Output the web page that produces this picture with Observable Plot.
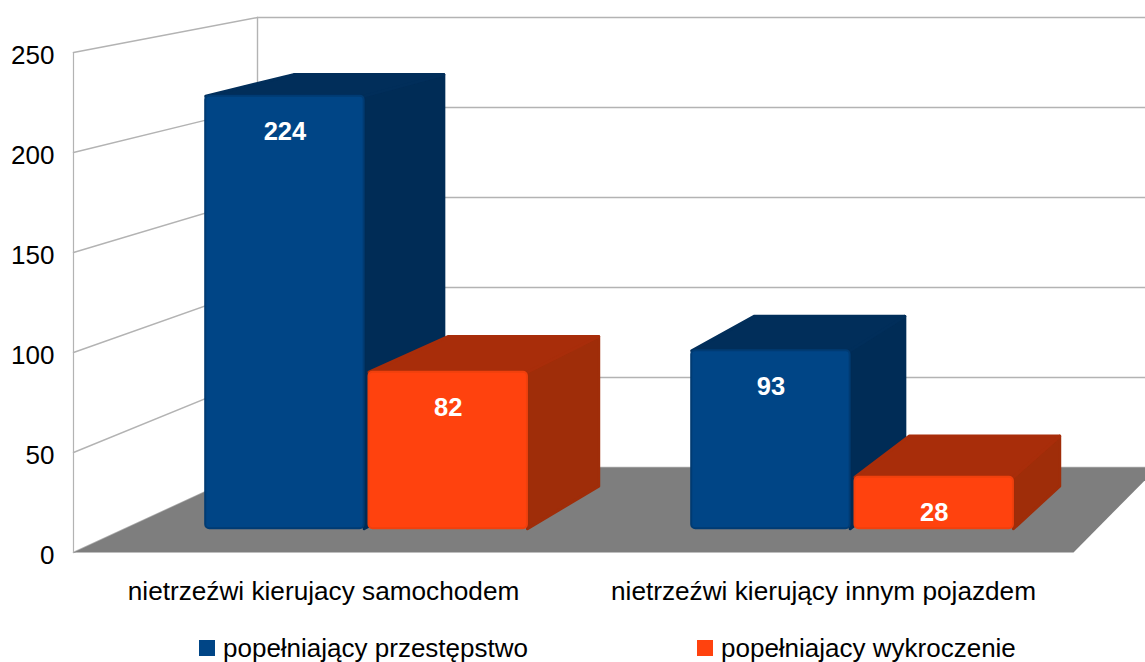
<!DOCTYPE html>
<html lang="pl">
<head>
<meta charset="utf-8">
<script src="https://cdn.jsdelivr.net/npm/d3@7"></script>
<script src="https://cdn.jsdelivr.net/npm/@observablehq/plot@0.6"></script>
<style>
  html, body { margin: 0; padding: 0; background: #fff; overflow: hidden; }
  #chart svg { display: block; overflow: hidden; }
  #legend { position: relative; height: 34px; font: 26px "Liberation Sans", Arial, sans-serif; color: #000; }
  .item { position: absolute; top: 0; display: flex; align-items: center; height: 40px; white-space: nowrap; }
  .swatch { width: 16px; height: 16px; margin-right: 8px; }
</style>
</head>
<body>
<div id="chart"></div>
<div id="legend"></div>
<script>
const categories = ["nietrzeźwi kierujacy samochodem", "nietrzeźwi kierujący innym pojazdem"];
const seriesNames = ["popełniający przestępstwo", "popełniajacy wykroczenie"];
const przestepstwo = [224, 93];
const wykroczenie = [82, 28];
const tickValues = [0, 50, 100, 150, 200, 250];
const faceColors = ["#004586", "#ff420e"];
const sideColors = ["#002c56", "#9f2d09"];
const topColors = ["#012e5a", "#a82d0a"];
const edgeColors = ["#003b73", "#f0400d"];
const legendLeft = [199, 697];

// Perspective of the 3D box, in the units of the x and y scales
const vanish = {x: 1840, v: 425};
const depth = {wall: 0.9, barFront: 0.972, barBack: 0.922};
const catWidth = 500, barWidth = 163, barSlot = 166, barGap = 1;
const bevelFront = 1.5, bevelBack = 0.8;
const floorWidth = categories.length * catWidth, yMax = 250;

const project = (x, v, s) => ({x: vanish.x + (x - vanish.x) * s, v: vanish.v + (v - vanish.v) * s});
const face = (points, color) => Plot.line(points, {
  x: "x", y: "v", curve: "linear-closed", fill: color, stroke: color, strokeWidth: 3, strokeLinejoin: "round"
});

const wallColor = "#b3b3b3";
const gridMarks = tickValues.flatMap(t => {
  const back = project(0, t, depth.wall), backEnd = project(floorWidth, t, depth.wall);
  return [
    Plot.line([{x: 0, v: t}, back], {x: "x", y: "v", stroke: wallColor, strokeWidth: 1.4}),
    Plot.line([back, backEnd], {x: "x", y: "v", stroke: wallColor, strokeWidth: 1.4})
  ];
});
const wallEdges = [
  Plot.line([{x: 0, v: 0}, {x: 0, v: yMax}], {x: "x", y: "v", stroke: wallColor, strokeWidth: 1.2}),
  Plot.line([project(0, 0, depth.wall), project(0, yMax, depth.wall)], {x: "x", y: "v", stroke: wallColor, strokeWidth: 1.4})
];
const floor = Plot.line(
  [{x: 0, v: 0}, {x: floorWidth, v: 0}, project(floorWidth, 0, depth.wall), project(0, 0, depth.wall)],
  {x: "x", y: "v", curve: "linear-closed", fill: "#7e7e7e", stroke: "none"}
);

const bars = [];
categories.forEach((c, i) => {
  const center = (i + 0.5) * catWidth;
  [przestepstwo[i], wykroczenie[i]].forEach((value, j) => {
    const x1 = j === 0 ? center - barGap - barSlot : center + barGap;
    bars.push({value, j, x1, x2: x1 + barWidth});
  });
});

const barMarks = bars.flatMap(({value, j, x1, x2}) => {
  const fl = project(x1, value - bevelFront, depth.barFront), fr = project(x2, value - bevelFront, depth.barFront);
  const bl = project(x1, value - bevelBack, depth.barBack), br = project(x2, value - bevelBack, depth.barBack);
  const fb = project(x2, 0, depth.barFront), bb = project(x2, 0, depth.barBack);
  const base = project(x1, 0, depth.barFront);
  return [
    face([fb, bb, br, fr], sideColors[j]),
    face([fl, bl, br, fr], topColors[j]),
    Plot.rect([{x1: fl.x, x2: fr.x, y1: base.v, y2: fl.v}], {
      x1: "x1", x2: "x2", y1: "y1", y2: "y2", fill: faceColors[j], stroke: edgeColors[j], strokeWidth: 2, rx: 4
    }),
    Plot.text([{x: (fl.x + fr.x) / 2, v: fl.v, t: value}], {
      x: "x", y: "v", text: "t", dy: 36, fill: "white", fontWeight: "bold", fontSize: 25.5,
      fontFamily: "Liberation Sans", stroke: "none"
    })
  ];
});

const plot = Plot.plot({
  width: 1145, height: 628,
  marginLeft: 73, marginRight: 72, marginTop: 52, marginBottom: 76,
  x: {domain: [0, floorWidth], axis: null},
  y: {domain: [0, yMax], axis: null},
  style: {fontFamily: "Liberation Sans", background: "white"},
  marks: [
    ...gridMarks, ...wallEdges, floor, ...barMarks,
    Plot.axisY({ticks: tickValues, tickSize: 0, tickPadding: 19, fontSize: 26, dy: 3, fill: "black",
      label: null, tickFormat: String, fontFamily: "Liberation Sans"}),
    Plot.axisX({ticks: categories.map((c, i) => (i + 0.5) * catWidth), tickSize: 0, tickPadding: 29, fontSize: 26.2,
      fill: "black", label: null, tickFormat: v => categories[Math.floor(v / catWidth)], fontFamily: "Liberation Sans"})
  ]
});
document.getElementById("chart").append(plot);

const legend = document.getElementById("legend");
seriesNames.forEach((name, j) => {
  const item = document.createElement("div");
  item.className = "item";
  item.style.left = legendLeft[j] + "px";
  const sw = document.createElement("span");
  sw.className = "swatch";
  sw.style.background = faceColors[j];
  const label = document.createElement("span");
  label.textContent = name;
  item.append(sw, label);
  legend.append(item);
});
</script>
</body>
</html>
